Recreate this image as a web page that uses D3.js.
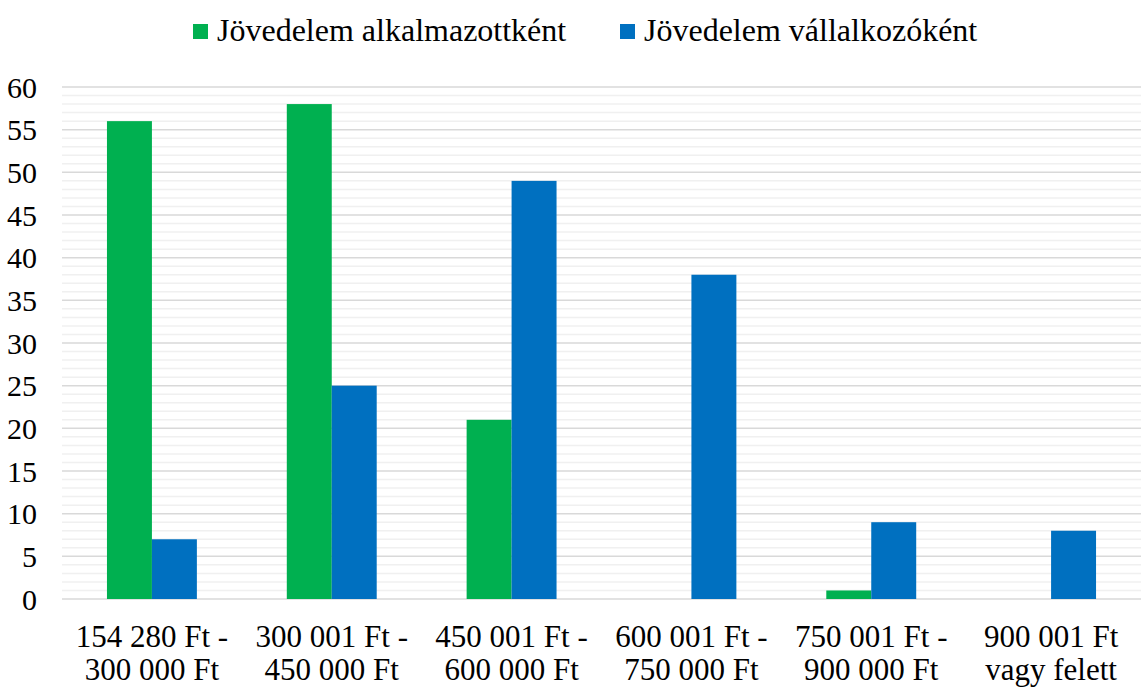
<!DOCTYPE html>
<html><head><meta charset="utf-8">
<script src="https://cdn.jsdelivr.net/npm/d3@7"></script>
<style>body{margin:0;background:#fff}text{font-family:"Liberation Serif","Times New Roman",serif;fill:#000}</style>
</head><body><svg id="c" width="1145" height="688"></svg>
<script>
const categories = [["154 280 Ft -","300 000 Ft"],["300 001 Ft -","450 000 Ft"],["450 001 Ft -","600 000 Ft"],["600 001 Ft -","750 000 Ft"],["750 001 Ft -","900 000 Ft"],["900 001 Ft","vagy felett"]];
const seriesNames = ["Jövedelem alkalmazottként","Jövedelem vállalkozóként"];
const employed = [56, 58, 21, 0, 1, 0];
const entrepreneur = [7, 25, 49, 38, 9, 8];
const yTicks = [0,5,10,15,20,25,30,35,40,45,50,55,60];
const colors = ["#00B050","#0070C0"];

const svg = d3.select("#c");
const m = {l:62, r:1141, t:87, b:599};
const x = d3.scaleBand().domain(d3.range(categories.length)).range([m.l,m.r]).paddingInner(0.5).paddingOuter(0.25);
const xs = d3.scaleBand().domain([0,1]).range([0,x.bandwidth()]);
const y = d3.scaleLinear().domain([0,60]).range([m.b,m.t]);

svg.append("g").selectAll("line").data(d3.range(0,61).filter(v=>v%5!==0)).join("line")
  .attr("x1",m.l).attr("x2",m.r).attr("y1",d=>y(d)).attr("y2",d=>y(d)).attr("stroke","#f0f0f0").attr("stroke-width",1.5);
svg.append("g").selectAll("line").data(yTicks).join("line")
  .attr("x1",m.l).attr("x2",m.r).attr("y1",d=>y(d)).attr("y2",d=>y(d)).attr("stroke","#d9d9d9").attr("stroke-width",1.5);

const yAxis = svg.append("g").attr("transform",`translate(${m.l},0)`).call(d3.axisLeft(y).tickValues(yTicks).tickSize(0).tickPadding(25));
yAxis.select(".domain").remove();
yAxis.selectAll("text").attr("font-size",30).attr("font-family","Liberation Serif").attr("fill","#000").attr("dy","0.34em");

const data = [employed, entrepreneur];
data.forEach((vals,si)=>{
  svg.append("g").selectAll("rect").data(vals).join("rect")
    .attr("x",(d,i)=>x(i)+xs(si)).attr("width",xs.bandwidth())
    .attr("y",d=>y(d)).attr("height",d=>y(0)-y(d)).attr("fill",colors[si]);
});

const xl = svg.append("g");
categories.forEach((c,i)=>{
  const cx = x(i)+x.bandwidth()/2;
  const t = xl.append("text").attr("text-anchor","middle").attr("font-size",31);
  t.append("tspan").attr("x",cx).attr("y",647).text(c[0]);
  t.append("tspan").attr("x",cx).attr("y",680).text(c[1]);
});

const lg = [{x:193,name:seriesNames[0],c:colors[0]},{x:620,name:seriesNames[1],c:colors[1]}];
lg.forEach(d=>{
  svg.append("rect").attr("x",d.x).attr("y",24).attr("width",15).attr("height",15).attr("fill",d.c);
  svg.append("text").attr("x",d.x+24).attr("y",41).attr("font-size",32).text(d.name);
});
</script></body></html>
